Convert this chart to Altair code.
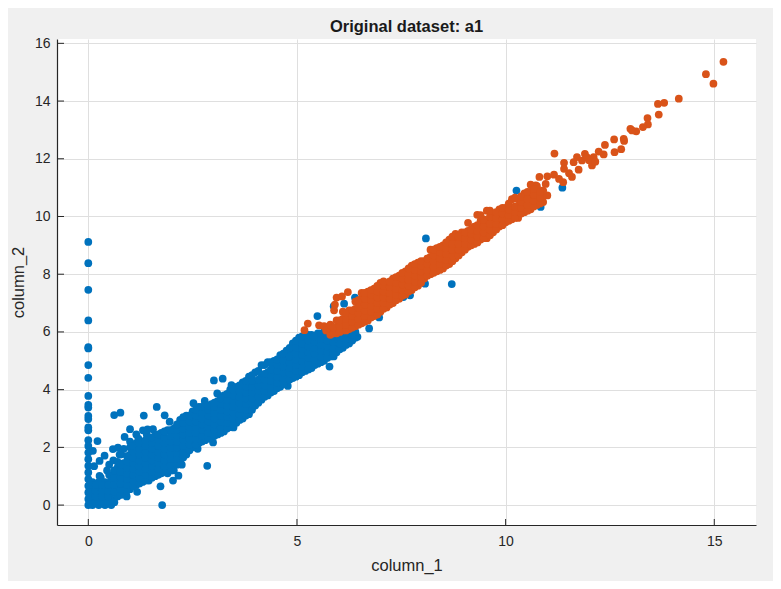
import altair as alt
import pandas as pd

# values
x_ticks = [0, 5, 10, 15]
y_ticks = [0, 2, 4, 6, 8, 10, 12, 14, 16]

blue_on_zero_y = [9.12, 8.38, 7.46, 6.40, 5.47, 5.43, 4.85, 4.41, 3.78, 3.47, 3.38, 3.09, 2.98, 2.69, 2.59,
                  2.25, 2.05, 1.82, 1.59, 1.36, 1.13, 0.90, 0.67, 0.44, 0.21, 0.0]

blue_outliers = [(0.62, 3.12), (0.77, 3.20), (0.22, 2.22), (1.33, 3.10), (1.64, 3.40), (1.83, 3.11), (1.95, 2.89),
                 (1.00, 2.63), (0.87, 2.36), (1.31, 2.59), (1.55, 2.63), (1.77, 0.0), (1.73, 0.65), (1.17, 0.46),
                 (2.85, 1.36), (2.99, 2.17), (3.48, 2.69), (3.01, 4.32), (3.22, 4.38), (2.52, 3.53), (2.79, 3.61),
                 (3.09, 3.87), (3.43, 4.16), (4.78, 4.13), (5.78, 4.80), (5.88, 5.15), (5.49, 6.55), (6.13, 6.98),
                 (6.39, 7.19), (5.88, 6.89), (6.45, 5.83), (6.73, 6.12), (6.97, 6.50), (7.55, 7.21), (7.71, 7.27),
                 (8.07, 7.67), (8.09, 9.24), (8.71, 7.66), (10.26, 10.90), (10.84, 10.33), (11.36, 11.0),
                 (0.11, 1.88), (0.39, 1.71), (0.27, 1.53), (0.59, 1.94), (0.71, 1.99), (0.79, 1.76), (0.14, 1.35),
                 (0.27, 1.01), (2.16, 1.02), (2.03, 0.85), (2.24, 1.40), (2.62, 1.95), (0.50, 1.40), (0.45, 1.20),
                 (0.60, 1.55), (0.85, 1.95), (1.00, 2.20), (1.15, 2.45), (1.40, 2.45), (0.30, 0.95), (0.50, 1.05),
                 (0.75, 1.75), (0.92, 0.30), (1.42, 2.62), (1.20, 2.30)]

blue_columns = {
    0.10: [0.0, 0.2, 0.4, 0.6, 0.8],
    0.25: [0.0, 0.2, 0.4, 0.6, 0.8],
    0.40: [0.0, 0.2, 0.4, 0.6, 0.8],
    0.55: [0.0, 0.2, 0.4, 0.6, 0.9],
    0.70: [0.3, 0.6, 0.8, 1.0, 1.3, 1.5],
    0.85: [0.45, 0.65, 0.85, 1.05, 1.25, 1.45],
    1.00: [0.55, 0.75, 0.95, 1.15, 1.35, 1.55, 1.75, 2.0],
    1.15: [0.7, 0.9, 1.1, 1.3, 1.5, 1.7, 1.9, 2.15],
    1.30: [0.8, 1.0, 1.2, 1.4, 1.6, 1.8, 2.0, 2.2],
    1.45: [0.85, 1.05, 1.25, 1.45, 1.65, 1.85, 2.05, 2.3],
    1.60: [1.0, 1.2, 1.4, 1.6, 1.8, 2.0, 2.2, 2.4],
    1.75: [1.1, 1.3, 1.5, 1.7, 1.9, 2.1, 2.3, 2.5],
    1.90: [1.1, 1.3, 1.5, 1.7, 1.9, 2.1, 2.3, 2.6],
    2.05: [1.2, 1.4, 1.6, 1.8, 2.0, 2.2, 2.4, 2.65],
    2.20: [1.5, 1.7, 1.9, 2.1, 2.3, 2.5, 2.7, 2.95],
    2.35: [1.75, 1.95, 2.15, 2.35, 2.55, 2.75, 2.95, 3.1],
    2.50: [2.0, 2.2, 2.4, 2.6, 2.8, 3.0, 3.25],
    2.65: [2.15, 2.35, 2.55, 2.75, 2.95, 3.15, 3.4],
    2.80: [2.25, 2.45, 2.65, 2.85, 3.05, 3.25, 3.45],
    2.95: [2.35, 2.55, 2.75, 2.95, 3.15, 3.35, 3.5],
    3.10: [2.45, 2.65, 2.85, 3.05, 3.25, 3.4, 3.6],
    3.25: [2.55, 2.75, 2.95, 3.15, 3.35, 3.55, 3.8],
    3.40: [2.7, 2.9, 3.1, 3.3, 3.5, 3.7, 4.0],
    3.55: [2.85, 3.05, 3.25, 3.45, 3.65, 3.85, 4.1],
    3.70: [3.0, 3.2, 3.4, 3.6, 3.8, 4.0, 4.25],
    3.85: [3.15, 3.35, 3.55, 3.75, 3.95, 4.15, 4.45],
    4.00: [3.45, 3.65, 3.85, 4.05, 4.25, 4.6],
    4.15: [3.65, 3.85, 4.05, 4.25, 4.45, 4.85],
    4.30: [3.8, 4.0, 4.2, 4.4, 4.6, 4.95],
    4.45: [3.95, 4.15, 4.35, 4.55, 4.75, 5.0],
    4.60: [4.1, 4.3, 4.5, 4.7, 4.9, 5.2],
    4.75: [4.3, 4.5, 4.7, 4.9, 5.1, 5.35],
    4.90: [4.4, 4.6, 4.8, 5.0, 5.2, 5.4, 5.6],
    5.05: [4.5, 4.7, 4.9, 5.1, 5.3, 5.5, 5.8],
    5.20: [4.65, 4.85, 5.05, 5.25, 5.45, 5.65, 5.9],
    5.35: [4.75, 4.95, 5.15, 5.35, 5.55, 5.75, 5.9],
    5.50: [4.9, 5.1, 5.3, 5.5, 5.7, 5.95],
    5.65: [5.0, 5.2, 5.4, 5.6, 5.8, 6.0],
    5.80: [5.15, 5.35, 5.55, 5.75, 5.95],
    5.95: [5.3, 5.5, 5.7, 5.9, 6.1],
    6.10: [5.45, 5.65, 5.85, 6.1],
    6.25: [5.6, 5.8, 6.0, 6.2],
    6.40: [5.8, 6.0, 6.3],
}

blue_between = {
    0.03: [0.1, 0.3, 0.5, 0.7],
    0.175: [0.1, 0.3, 0.5, 0.7],
    0.325: [0.1, 0.3, 0.5, 0.7],
    0.475: [0.1, 0.3, 0.5, 0.7],
    0.625: [0.1, 0.45, 0.7, 0.95, 1.2],
    0.775: [0.35, 0.55, 0.75, 0.95, 1.15, 1.4],
    0.925: [0.5, 0.7, 0.9, 1.1, 1.3, 1.5, 1.7],
    1.075: [0.65, 0.85, 1.05, 1.25, 1.45, 1.65, 1.85, 2.05],
    1.225: [0.75, 0.95, 1.15, 1.35, 1.55, 1.75, 1.95, 2.15],
    1.375: [0.85, 1.05, 1.25, 1.45, 1.65, 1.85, 2.05, 2.25],
    1.525: [0.95, 1.15, 1.35, 1.55, 1.75, 1.95, 2.15, 2.35],
    1.675: [1.05, 1.25, 1.45, 1.65, 1.85, 2.05, 2.25, 2.45],
    1.825: [1.15, 1.35, 1.55, 1.75, 1.95, 2.15, 2.35, 2.55],
    1.975: [1.2, 1.4, 1.6, 1.8, 2.0, 2.2, 2.4, 2.6],
    2.125: [1.4, 1.6, 1.8, 2.0, 2.2, 2.4, 2.6, 2.8],
    2.275: [1.65, 1.85, 2.05, 2.25, 2.45, 2.65, 2.85, 3.05],
    2.425: [1.9, 2.1, 2.3, 2.5, 2.7, 2.9, 3.1],
    2.575: [2.1, 2.3, 2.5, 2.7, 2.9, 3.1, 3.3],
    2.725: [2.2, 2.4, 2.6, 2.8, 3.0, 3.2, 3.4],
    2.875: [2.3, 2.5, 2.7, 2.9, 3.1, 3.3, 3.45],
    3.025: [2.4, 2.6, 2.8, 3.0, 3.2, 3.4, 3.55],
    3.175: [2.5, 2.7, 2.9, 3.1, 3.3, 3.5, 3.7],
    3.325: [2.65, 2.85, 3.05, 3.25, 3.45, 3.65, 3.85],
    3.475: [2.8, 3.0, 3.2, 3.4, 3.6, 3.8, 4.0],
    3.625: [2.95, 3.15, 3.35, 3.55, 3.75, 3.95, 4.15],
    3.775: [3.1, 3.3, 3.5, 3.7, 3.9, 4.1, 4.3],
    3.925: [3.3, 3.5, 3.7, 3.9, 4.1, 4.3, 4.5],
    4.075: [3.55, 3.75, 3.95, 4.15, 4.35, 4.65],
    4.225: [3.75, 3.95, 4.15, 4.35, 4.55, 4.85],
    4.375: [3.9, 4.1, 4.3, 4.5, 4.7, 4.95],
    4.525: [4.05, 4.25, 4.45, 4.65, 4.85, 5.05],
    4.675: [4.2, 4.4, 4.6, 4.8, 5.0, 5.25],
    4.825: [4.35, 4.55, 4.75, 4.95, 5.15, 5.45],
    4.975: [4.45, 4.65, 4.85, 5.05, 5.25, 5.45, 5.7],
    5.125: [4.6, 4.8, 5.0, 5.2, 5.4, 5.6, 5.85],
    5.275: [4.7, 4.9, 5.1, 5.3, 5.5, 5.7, 5.9],
    5.425: [4.85, 5.05, 5.25, 5.45, 5.65, 5.85],
    5.575: [4.95, 5.15, 5.35, 5.55, 5.75, 5.95],
    5.725: [5.1, 5.3, 5.5, 5.7, 5.9],
    5.875: [5.25, 5.45, 5.65, 5.85, 6.05],
    6.025: [5.4, 5.6, 5.8, 6.0],
    6.175: [5.55, 5.75, 5.95],
    6.325: [5.7, 5.9, 6.1],
}

orange_columns = {
    5.80: [5.9, 6.1, 6.25],
    5.95: [5.95, 6.15, 6.4],
    6.10: [6.05, 6.25, 6.45, 6.7],
    6.25: [6.1, 6.3, 6.5, 6.75],
    6.40: [6.2, 6.4, 6.6, 6.8, 7.05],
    6.55: [6.3, 6.5, 6.7, 6.9, 7.15, 7.35],
    6.70: [6.4, 6.6, 6.8, 7.0, 7.2, 7.4],
    6.85: [6.55, 6.75, 6.95, 7.15, 7.35, 7.5],
    7.00: [6.7, 6.9, 7.1, 7.3, 7.5, 7.7],
    7.15: [6.85, 7.05, 7.25, 7.45, 7.65],
    7.30: [7.0, 7.2, 7.4, 7.6, 7.85],
    7.45: [7.15, 7.35, 7.55, 7.75, 7.95],
    7.60: [7.3, 7.5, 7.7, 7.9, 8.1],
    7.75: [7.45, 7.65, 7.85, 8.05, 8.3],
    7.90: [7.6, 7.8, 8.0, 8.2, 8.4],
    8.05: [7.85, 8.05, 8.25, 8.45],
    8.20: [8.0, 8.2, 8.4, 8.6, 8.85],
    8.35: [8.1, 8.3, 8.5, 8.7, 8.9],
    8.50: [8.2, 8.4, 8.6, 8.8, 9.0],
    8.65: [8.35, 8.55, 8.75, 8.95, 9.2],
    8.80: [8.55, 8.75, 8.95, 9.15, 9.4],
    8.95: [8.75, 8.95, 9.15, 9.45],
    9.10: [8.95, 9.15, 9.35, 9.5, 9.78],
    9.25: [9.05, 9.25, 9.45, 9.65],
    9.40: [9.2, 9.4, 9.6, 9.85, 10.05],
    9.55: [9.25, 9.45, 9.65, 9.85, 10.2],
    9.70: [9.45, 9.65, 9.85, 10.1],
    9.85: [9.65, 9.85, 10.05, 10.25],
    10.00: [9.8, 10.0, 10.2, 10.3],
    10.15: [9.9, 10.1, 10.3, 10.6],
    10.30: [9.95, 10.15, 10.35, 10.6],
    10.45: [10.15, 10.35, 10.55, 10.8],
    10.60: [10.25, 10.45, 10.65, 10.85, 11.1],
    10.75: [10.4, 10.6, 10.8, 11.05],
    10.90: [10.5, 10.7, 10.9],
}

orange_between = {
    5.875: [5.95, 6.15],
    6.025: [6.0, 6.2, 6.4],
    6.175: [6.05, 6.25, 6.45, 6.65],
    6.325: [6.15, 6.35, 6.55, 6.75],
    6.475: [6.25, 6.45, 6.65, 6.85, 7.1],
    6.625: [6.35, 6.55, 6.75, 6.95, 7.15, 7.35],
    6.775: [6.5, 6.7, 6.9, 7.1, 7.3, 7.45],
    6.925: [6.6, 6.8, 7.0, 7.2, 7.4, 7.6],
    7.075: [6.8, 7.0, 7.2, 7.4, 7.6, 7.75],
    7.225: [6.95, 7.15, 7.35, 7.55, 7.75],
    7.375: [7.1, 7.3, 7.5, 7.7, 7.9],
    7.525: [7.25, 7.45, 7.65, 7.85, 8.05],
    7.675: [7.4, 7.6, 7.8, 8.0, 8.2],
    7.825: [7.55, 7.75, 7.95, 8.15, 8.35],
    7.975: [7.7, 7.9, 8.1, 8.3, 8.45],
    8.125: [7.95, 8.15, 8.35, 8.55],
    8.275: [8.05, 8.25, 8.45, 8.65, 8.85],
    8.425: [8.15, 8.35, 8.55, 8.75, 8.95],
    8.575: [8.3, 8.5, 8.7, 8.9, 9.1],
    8.725: [8.45, 8.65, 8.85, 9.05, 9.3],
    8.875: [8.65, 8.85, 9.05, 9.3],
    9.025: [8.85, 9.05, 9.25, 9.45],
    9.175: [9.0, 9.2, 9.4, 9.55],
    9.325: [9.1, 9.3, 9.5, 9.7],
    9.475: [9.25, 9.45, 9.65, 9.9],
    9.625: [9.35, 9.55, 9.75, 10.0, 10.2],
    9.775: [9.55, 9.75, 9.95, 10.15],
    9.925: [9.7, 9.9, 10.1, 10.3],
    10.075: [9.85, 10.05, 10.25, 10.45],
    10.225: [9.95, 10.15, 10.35, 10.65],
    10.375: [10.1, 10.3, 10.5, 10.7],
    10.525: [10.2, 10.4, 10.6, 10.85],
    10.675: [10.35, 10.55, 10.75, 10.95],
    10.825: [10.45, 10.65, 10.85],
}

orange_outliers = [(15.22, 15.36), (14.80, 14.93), (14.98, 14.60), (14.15, 14.08), (13.80, 13.94), (13.65, 13.90),
                   (13.67, 13.53), (13.40, 13.41), (13.41, 13.19), (13.29, 13.10), (13.13, 12.95), (12.99, 13.04),
                   (13.03, 12.98), (12.83, 12.69), (12.84, 12.62), (12.60, 12.67), (12.77, 12.33), (12.61, 12.23),
                   (12.38, 12.48), (12.35, 12.15), (12.23, 12.25), (11.17, 12.18), (12.11, 12.06), (12.07, 11.77),
                   (11.90, 12.17), (11.71, 12.06), (11.63, 11.88), (11.83, 11.94), (11.75, 11.62), (11.40, 11.86),
                   (11.40, 11.65), (11.59, 11.37), (11.52, 11.50), (11.38, 11.19), (11.16, 11.45), (11.00, 11.39),
                   (10.81, 11.37), (10.96, 11.13), (10.72, 11.08), (11.00, 10.73), (10.88, 10.90), (12.00, 11.95),
                   (11.95, 12.05), (12.15, 11.90), (11.28, 11.30), (6.22, 7.38), (5.95, 7.19), (6.08, 7.23),
                   (5.89, 6.75), (5.91, 6.95), (5.53, 6.23), (5.26, 6.29), (5.18, 6.06), (5.65, 6.20), (9.32, 10.06),
                   (5.70, 6.05)]

blue_rows = [{"x": 0.0, "y": v} for v in blue_on_zero_y]
blue_rows += [{"x": a, "y": b} for a, b in blue_outliers]
for group in (blue_columns, blue_between):
    for cx, ys in group.items():
        blue_rows += [{"x": cx, "y": v} for v in ys]

orange_rows = [{"x": a, "y": b} for a, b in orange_outliers]
for group in (orange_columns, orange_between):
    for cx, ys in group.items():
        orange_rows += [{"x": cx, "y": v} for v in ys]

INK = "#262626"
FONT = "Liberation Sans"
x_scale = alt.Scale(domain=[-0.75, 16], nice=False, zero=False)
y_scale = alt.Scale(domain=[-0.69, 16.15], nice=False, zero=False)
x_axis = alt.Axis(values=x_ticks, title="column_1", format="d", grid=True, tickSize=0, labelPadding=9,
                  titlePadding=9, labelFlush=False)
y_axis = alt.Axis(values=y_ticks, title="column_2", format="d", grid=True, tickSize=0, labelPadding=7,
                  titlePadding=8, labelOverlap=False)


def scatter(rows, colour):
    return alt.Chart(pd.DataFrame(rows)).mark_circle(size=60, color=colour, opacity=1).encode(
        x=alt.X("x:Q", scale=x_scale, axis=x_axis),
        y=alt.Y("y:Q", scale=y_scale, axis=y_axis),
    )


x_tick_marks = alt.Chart(pd.DataFrame({"t": x_ticks})).mark_rule(color=INK, strokeWidth=1).encode(
    x=alt.X("t:Q", scale=x_scale, axis=x_axis), y=alt.value(486), y2=alt.value(480))
y_tick_marks = alt.Chart(pd.DataFrame({"t": y_ticks})).mark_rule(color=INK, strokeWidth=1).encode(
    y=alt.Y("t:Q", scale=y_scale, axis=y_axis), x=alt.value(0), x2=alt.value(7))

chart = (
    alt.layer(scatter(blue_rows, "#0072BD"), scatter(orange_rows, "#D95319"), x_tick_marks, y_tick_marks)
    .properties(
        width=699,
        height=486,
        background="#f0f0f0",
        autosize=alt.AutoSizeParams(type="none"),
        padding={"left": 49, "top": 31, "right": 17, "bottom": 56},
        title=alt.TitleParams("Original dataset: a1", font=FONT, fontSize=16.5, fontWeight="bold", color="#1a1a1a",
                              anchor="middle", offset=1),
    )
    .configure_view(fill="white", stroke=None)
    .configure_axis(
        domainColor=INK, domainWidth=1.2, gridColor="#dfdfdf", gridWidth=1, gridOpacity=1,
        labelFont=FONT, labelFontSize=14, labelColor=INK, titleFont=FONT, titleFontSize=16.5,
        titleColor=INK, titleFontWeight="normal",
    )
)

chart.save("out.html", embed_options={"renderer": "svg", "actions": False})
